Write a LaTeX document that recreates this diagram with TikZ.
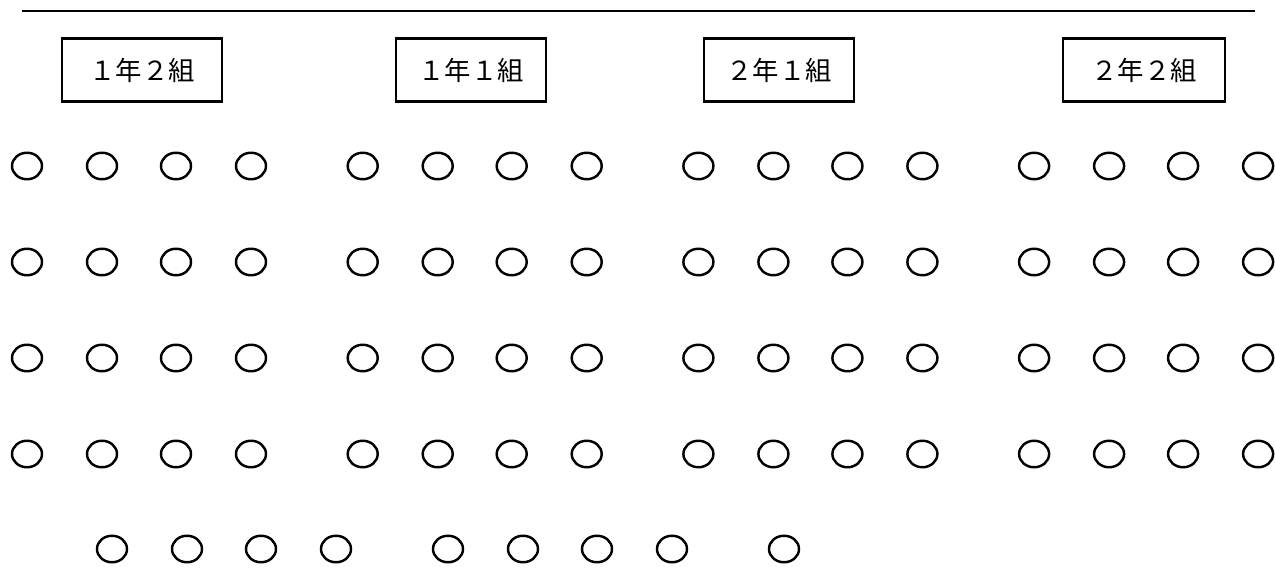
\documentclass[tikz,border=0pt]{standalone}
\usepackage{fontspec}
\usepackage{tikz}
\usetikzlibrary{positioning,shapes.geometric}
\newfontfamily\jpfont{Noto Sans CJK JP}

\tikzset{
  seat/.style={draw, ellipse, line width=1.4pt, minimum width=0.6cm, minimum height=0.53cm, inner sep=0pt},
  classbox/.style={draw, rectangle, line width=1.3pt, minimum height=1.26cm, inner sep=0pt, font=\jpfont\fontsize{15}{17}\selectfont}
}

\begin{document}
\begin{tikzpicture}[x=0.02cm, y=-0.02cm]
    \useasboundingbox (0,0) rectangle (1275,581);

    % Top line
    \coordinate (lineL) at (22,11);
    \coordinate (lineR) at (1255,11);
    \draw[line width=0.7pt] (lineL) -- (lineR);

    % Class labels
    \node [classbox, minimum width=3.2cm] (c12) at (142,70) {１年２組};
    \node [classbox, minimum width=3.0cm] (c11) at (471,70) {１年１組};
    \node [classbox, minimum width=3.0cm] (c21) at (779,70) {２年１組};
    \node [classbox, minimum width=3.24cm] (c22) at (1144,70) {２年２組};

    % Seats, four rows of four groups
    \foreach \r/\y in {1/166,2/262,3/358,4/454}{
      \foreach \g in {0,1,2,3}{
        \foreach \c/\dx in {1/0,2/75,3/149,4/224}{
          \node [seat] (s-\r-\g-\c) at ({27+335.7*\g+\dx},\y) {};
        }
      }
    }

    % Last row
    \foreach \c/\dx in {1/0,2/75,3/149,4/224}{
      \node [seat] (s-5-0-\c) at ({112+\dx},549) {};
      \node [seat] (s-5-1-\c) at ({448+\dx},549) {};
    }
    \node [seat] (s-5-2-1) at (784,549) {};
\end{tikzpicture}
\end{document}
